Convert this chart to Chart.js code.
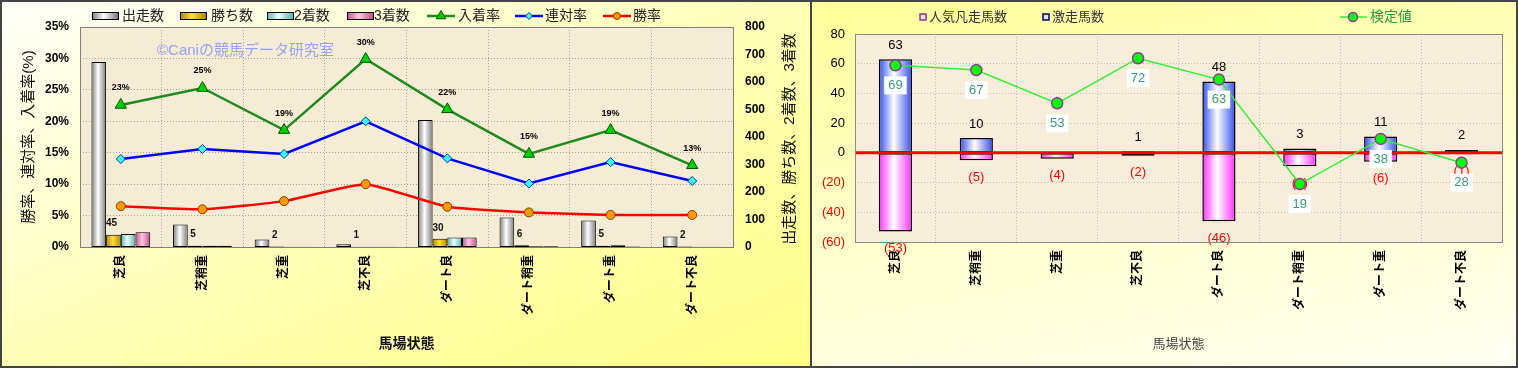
<!DOCTYPE html>
<html>
<head>
<meta charset="utf-8">
<script src="https://cdn.jsdelivr.net/npm/chart.js@4.4.0/dist/chart.umd.min.js"></script>
<style>
body { margin: 0; background: #fff; width: 1518px; height: 369px; overflow: hidden; position: relative; }
.panel { position: absolute; top: 0; height: 368px; box-sizing: border-box; border: 2px solid #444; }
#leftPanel { left: 0; width: 812px; background: linear-gradient(to bottom right, #fffffa 0%, #ffffb8 50%, #ffff88 100%); }
#rightPanel { left: 810px; width: 708px; background: linear-gradient(170deg, #ffff9a 0%, #ffffc8 45%, #fffff2 100%); }
canvas { position: absolute; left: -2px; top: -2px; }
</style>
</head>
<body>
<div class="panel" id="leftPanel"><canvas id="leftChart" width="810" height="368"></canvas></div>
<div class="panel" id="rightPanel"><canvas id="rightChart" width="708" height="368"></canvas></div>
<script>
const labels = ['芝良', '芝稍重', '芝重', '芝不良', 'ダート良', 'ダート稍重', 'ダート重', 'ダート不良'];

// left chart
const runCounts = [673, 82, 27, 10, 462, 107, 96, 38];
const winCounts = [45, 5, 2, 1, 30, 6, 5, 2];
const secondCounts = [47, 5, 1, 1, 35, 3, 6, 1];
const thirdCounts = [54, 5, 1, 1, 35, 3, 2, 1];
const placeRates = [22.6, 25.3, 18.6, 29.9, 21.9, 14.8, 18.6, 13.0];
const rentaiRates = [14.0, 15.6, 14.8, 20.0, 14.1, 10.1, 13.5, 10.5];
const winRates = [6.5, 6.0, 7.3, 10.0, 6.4, 5.5, 5.1, 5.1];

// right chart
const flopCounts = [-53, -5, -4, -2, -46, -9, -6, -1];
const upsetCounts = [63, 10, 0, 1, 48, 3, 11, 2];
const testValues = [69, 67, 53, 72, 63, 19, 38, 28];

const FONT = "'Liberation Sans','Noto Sans CJK JP',sans-serif";
Chart.defaults.font.family = FONT;
Chart.defaults.animation = false;
Chart.defaults.color = '#000';

function hGrad(ctx, x0, x1, edge, mid) {
    const g = ctx.createLinearGradient(x0, 0, x1, 0);
    g.addColorStop(0, edge);
    g.addColorStop(0.45, mid);
    g.addColorStop(1, edge);
    return g;
}

function barFill(k, n, catPct, edge, mid) {
    return c => {
        const xs = c.chart.scales.x;
        if (c.type !== 'data' || !xs || !xs.width) return mid;
        const catW = xs.width / labels.length;
        const groupW = catW * catPct, bw = groupW / n;
        const x0 = xs.getPixelForValue(c.dataIndex) - groupW / 2 + k * bw;
        return hGrad(c.chart.ctx, x0, x0 + bw, edge, mid);
    };
}

function vText(ctx, text, x, y, font, color) {
    ctx.save();
    ctx.translate(x, y);
    ctx.rotate(-Math.PI / 2);
    ctx.font = font;
    ctx.fillStyle = color;
    ctx.textAlign = 'center';
    ctx.textBaseline = 'middle';
    ctx.fillText(text, 0, 0);
    ctx.restore();
}

const barColors = [
    ['#7a7a7a', '#ffffff'],
    ['#b38600', '#ffdd44'],
    ['#5fb0b0', '#e8ffff'],
    ['#c0508a', '#ffc8e4']
];
const CAT_PCT = 0.72;

const leftDeco = {
    id: 'leftDeco',
    beforeDraw(chart) {
        const { ctx, chartArea: a } = chart;
        ctx.save();
        ctx.fillStyle = '#f5ecd6';
        ctx.fillRect(a.left, a.top, a.right - a.left, a.bottom - a.top);
        ctx.restore();
    },
    beforeDatasetsDraw(chart) {
        const ctx = chart.ctx;
        ctx.save();
        ctx.font = '15px ' + FONT;
        ctx.fillStyle = '#98a2f2';
        ctx.textBaseline = 'middle';
        ctx.fillText('©Caniの競馬データ研究室', 157, 51);
        ctx.restore();
    },
    afterDatasetDraw(chart, args) {
        if (args.index !== 4) return;
        const ctx = chart.ctx;
        ctx.save();
        ctx.font = 'bold 10px ' + FONT;
        ctx.fillStyle = '#111';
        ctx.textAlign = 'center';
        ctx.textBaseline = 'middle';
        args.meta.data.forEach((el, i) => ctx.fillText(String(winCounts[i]), el.x - 2, el.y - 11));
        ctx.restore();
    },
    afterDatasetsDraw(chart) {
        const ctx = chart.ctx;
        const meta = chart.getDatasetMeta(0);
        ctx.save();
        ctx.font = 'bold 9px ' + FONT;
        ctx.fillStyle = '#000';
        ctx.textAlign = 'center';
        ctx.textBaseline = 'middle';
        meta.data.forEach((pt, i) => ctx.fillText(Math.round(placeRates[i]) + '%', pt.x, pt.y - 17));
        ctx.restore();
    },
    afterDraw(chart) {
        const { ctx, chartArea: a } = chart;
        ctx.save();
        ctx.strokeStyle = '#808080';
        ctx.lineWidth = 1;
        ctx.strokeRect(a.left + 0.5, a.top + 0.5, a.right - a.left, a.bottom - a.top);

        // legend
        const y = 16;
        ctx.font = '14px ' + FONT;
        ctx.textBaseline = 'middle';
        const barItems = [['出走数', 92, 122], ['勝ち数', 180, 211], ['2着数', 267, 294], ['3着数', 347, 374]];
        barItems.forEach((it, k) => {
            ctx.fillStyle = hGrad(ctx, it[1], it[1] + 26, barColors[k][0], barColors[k][1]);
            ctx.fillRect(it[1], y - 4, 26, 8);
            ctx.strokeStyle = '#000';
            ctx.lineWidth = 1;
            ctx.strokeRect(it[1] + 0.5, y - 3.5, 26, 7);
            ctx.fillStyle = '#222';
            ctx.fillText(it[0], it[2], y);
        });
        const lineItems = [['入着率', 427, 458, 0], ['連対率', 515, 545, 1], ['勝率', 603, 633, 2]];
        lineItems.forEach(it => {
            const ds = chart.data.datasets[it[3]];
            ctx.strokeStyle = ds.borderColor;
            ctx.lineWidth = 2.5;
            ctx.beginPath();
            ctx.moveTo(it[1], y);
            ctx.lineTo(it[1] + 28, y);
            ctx.stroke();
            ctx.fillStyle = ds.pointBackgroundColor;
            ctx.strokeStyle = ds.pointBorderColor;
            ctx.lineWidth = 1;
            Chart.helpers.drawPoint(ctx, { pointStyle: ds.pointStyle, radius: ds.pointRadius - 1, borderWidth: 1 }, it[1] + 14, y);
            ctx.fillStyle = '#222';
            ctx.fillText(it[0], it[2], y);
        });

        // axis titles
        vText(ctx, '勝率、連対率、入着率(%)', 29, (a.top + a.bottom) / 2, '15px ' + FONT, '#111');
        vText(ctx, '出走数、勝ち数、2着数、3着数', 790, (a.top + a.bottom) / 2 + 2, '15px ' + FONT, '#111');
        ctx.font = 'bold 14px ' + FONT;
        ctx.fillStyle = '#111';
        ctx.textAlign = 'center';
        ctx.textBaseline = 'middle';
        ctx.fillText('馬場状態', (a.left + a.right) / 2, 344);
        ctx.restore();
    }
};

const gridDotted = { color: '#a9a294', lineWidth: 1, drawTicks: false };

new Chart(document.getElementById('leftChart'), {
    data: {
        labels: labels,
        datasets: [
            {
                type: 'line', label: '入着率', data: placeRates, yAxisID: 'y', order: 1,
                borderColor: '#1f8a1f', borderWidth: 2.5, tension: 0,
                pointStyle: 'triangle', pointRadius: 6.5, pointBackgroundColor: '#00d000',
                pointBorderColor: '#005500', pointBorderWidth: 1
            },
            {
                type: 'line', label: '連対率', data: rentaiRates, yAxisID: 'y', order: 1,
                borderColor: '#0000ff', borderWidth: 2.5, tension: 0,
                pointStyle: 'rectRot', pointRadius: 4.5, pointBackgroundColor: '#33ffff',
                pointBorderColor: '#0033aa', pointBorderWidth: 1
            },
            {
                type: 'line', label: '勝率', data: winRates, yAxisID: 'y', order: 1,
                borderColor: '#ff0000', borderWidth: 2.5, tension: 0.15,
                pointStyle: 'circle', pointRadius: 4.5, pointBackgroundColor: '#ff9a00',
                pointBorderColor: '#8a3a00', pointBorderWidth: 1
            },
            {
                type: 'bar', label: '出走数', data: runCounts, yAxisID: 'y1', order: 2,
                backgroundColor: barFill(0, 4, CAT_PCT, barColors[0][0], barColors[0][1]),
                borderColor: '#000', borderWidth: 1, borderSkipped: false,
                categoryPercentage: CAT_PCT, barPercentage: 1
            },
            {
                type: 'bar', label: '勝ち数', data: winCounts, yAxisID: 'y1', order: 2,
                backgroundColor: barFill(1, 4, CAT_PCT, barColors[1][0], barColors[1][1]),
                borderColor: '#000', borderWidth: 1, borderSkipped: false,
                categoryPercentage: CAT_PCT, barPercentage: 1
            },
            {
                type: 'bar', label: '2着数', data: secondCounts, yAxisID: 'y1', order: 2,
                backgroundColor: barFill(2, 4, CAT_PCT, barColors[2][0], barColors[2][1]),
                borderColor: '#000', borderWidth: 1, borderSkipped: false,
                categoryPercentage: CAT_PCT, barPercentage: 1
            },
            {
                type: 'bar', label: '3着数', data: thirdCounts, yAxisID: 'y1', order: 2,
                backgroundColor: barFill(3, 4, CAT_PCT, barColors[3][0], barColors[3][1]),
                borderColor: '#000', borderWidth: 1, borderSkipped: false,
                categoryPercentage: CAT_PCT, barPercentage: 1
            }
        ]
    },
    options: {
        responsive: false,
        events: [],
        layout: { padding: { top: 27, left: 0, right: 0, bottom: 0 } },
        plugins: { legend: { display: false }, tooltip: { enabled: false } },
        scales: {
            x: {
                afterFit: s => { s.height = 121; },
                grid: gridDotted,
                border: { display: false, dash: [1, 2] },
                ticks: {
                    minRotation: 90, maxRotation: 90, autoSkip: false, padding: 8,
                    font: { size: 12, weight: 'bold' }, color: '#000'
                }
            },
            y: {
                position: 'left', min: 0, max: 35,
                afterFit: s => { s.width = 80; },
                grid: gridDotted,
                border: { display: false, dash: [1, 2] },
                ticks: {
                    stepSize: 5, padding: 11,
                    font: { size: 12, weight: 'bold' }, color: '#000',
                    callback: v => v + '%'
                }
            },
            y1: {
                position: 'right', min: 0, max: 800,
                afterFit: s => { s.width = 77; },
                grid: { display: false, drawTicks: false },
                border: { display: false },
                ticks: {
                    stepSize: 100, padding: 12,
                    font: { size: 12, weight: 'bold' }, color: '#000'
                }
            }
        }
    },
    plugins: [leftDeco]
});

// right chart
const RCAT = 0.41;
const rightDeco = {
    id: 'rightDeco',
    beforeDraw(chart) {
        const { ctx, chartArea: a } = chart;
        ctx.save();
        ctx.fillStyle = '#f6eedb';
        ctx.fillRect(a.left, a.top, a.right - a.left, a.bottom - a.top);
        ctx.restore();
    },
    afterDatasetDraw(chart, args) {
        const ctx = chart.ctx;
        const a = chart.chartArea;
        if (args.index === 2) {
            ctx.save();
            ctx.font = '13px ' + FONT;
            ctx.fillStyle = '#000';
            ctx.textAlign = 'center';
            ctx.textBaseline = 'middle';
            args.meta.data.forEach((el, i) => {
                if (upsetCounts[i] > 0) ctx.fillText(String(upsetCounts[i]), el.x, el.y - 14);
            });
            ctx.restore();
        }
        if (args.index === 1) {
            ctx.save();
            ctx.font = '13px ' + FONT;
            ctx.fillStyle = '#ff0000';
            ctx.textAlign = 'center';
            ctx.textBaseline = 'middle';
            args.meta.data.forEach((el, i) => {
                ctx.fillText('(' + (-flopCounts[i]) + ')', el.x, el.y + 17);
            });
            // zero line
            const y0 = chart.scales.y.getPixelForValue(0);
            ctx.strokeStyle = '#ff0000';
            ctx.lineWidth = 3;
            ctx.beginPath();
            ctx.moveTo(a.left, y0);
            ctx.lineTo(a.right, y0);
            ctx.stroke();
            ctx.restore();
        }
    },
    afterDatasetsDraw(chart) {
        const ctx = chart.ctx;
        const meta = chart.getDatasetMeta(0);
        ctx.save();
        ctx.font = '13px ' + FONT;
        ctx.textAlign = 'center';
        ctx.textBaseline = 'middle';
        meta.data.forEach((pt, i) => {
            const t = String(testValues[i]);
            const w = ctx.measureText(t).width + 8;
            const cy = pt.y + 20;
            ctx.fillStyle = '#ffffff';
            ctx.fillRect(pt.x - w / 2, cy - 9, w, 18);
            ctx.fillStyle = '#3a9a78';
            ctx.fillText(t, pt.x, cy);
        });
        ctx.restore();
    },
    afterDraw(chart) {
        const { ctx, chartArea: a } = chart;
        ctx.save();
        ctx.strokeStyle = '#8a8a8a';
        ctx.lineWidth = 1;
        ctx.strokeRect(a.left + 0.5, a.top + 0.5, a.right - a.left, a.bottom - a.top);

        // legend
        const y = 17;
        ctx.font = '13px ' + FONT;
        ctx.textBaseline = 'middle';
        ctx.fillStyle = '#ffd8f4';
        ctx.fillRect(110, y - 3, 6, 6);
        ctx.strokeStyle = '#993399';
        ctx.lineWidth = 1.5;
        ctx.strokeRect(110, y - 3, 6, 6);
        ctx.fillStyle = '#333';
        ctx.fillText('人気凡走馬数', 119, y);
        ctx.fillStyle = '#e0e8ff';
        ctx.fillRect(233, y - 3, 6, 6);
        ctx.strokeStyle = '#000066';
        ctx.strokeRect(233, y - 3, 6, 6);
        ctx.fillStyle = '#333';
        ctx.fillText('激走馬数', 242, y);

        const ds = chart.data.datasets[0];
        ctx.strokeStyle = ds.borderColor;
        ctx.lineWidth = 1.5;
        ctx.beginPath();
        ctx.moveTo(530, y);
        ctx.lineTo(557, y);
        ctx.stroke();
        ctx.fillStyle = ds.pointBackgroundColor;
        ctx.strokeStyle = ds.pointBorderColor;
        Chart.helpers.drawPoint(ctx, { pointStyle: 'circle', radius: 4.5, borderWidth: 1.5 }, 543, y);
        ctx.font = '14px ' + FONT;
        ctx.fillStyle = '#2a9a40';
        ctx.fillText('検定値', 560, y);

        ctx.font = '13px ' + FONT;
        ctx.fillStyle = '#444';
        ctx.textAlign = 'center';
        ctx.fillText('馬場状態', (a.left + a.right) / 2, 344);
        ctx.restore();
    }
};

new Chart(document.getElementById('rightChart'), {
    data: {
        labels: labels,
        datasets: [
            {
                type: 'line', label: '検定値', data: testValues, yAxisID: 'y2', order: 1,
                borderColor: '#33ee33', borderWidth: 1.5, tension: 0,
                pointStyle: 'circle', pointRadius: 5.5, pointBackgroundColor: '#00ff00',
                pointBorderColor: '#993399', pointBorderWidth: 1.5
            },
            {
                type: 'bar', label: '人気凡走馬数', data: flopCounts, yAxisID: 'y', stack: 's', order: 2,
                backgroundColor: barFill(0, 1, RCAT, '#ff30ff', '#ffffff'),
                borderColor: '#000', borderWidth: 1.5, borderSkipped: false,
                categoryPercentage: RCAT, barPercentage: 1
            },
            {
                type: 'bar', label: '激走馬数', data: upsetCounts, yAxisID: 'y', stack: 's', order: 2,
                backgroundColor: barFill(0, 1, RCAT, '#3050f0', '#ffffff'),
                borderColor: '#000', borderWidth: 1.5, borderSkipped: false,
                categoryPercentage: RCAT, barPercentage: 1
            }
        ]
    },
    options: {
        responsive: false,
        events: [],
        layout: { padding: { top: 34, left: 0, right: 16, bottom: 0 } },
        plugins: { legend: { display: false }, tooltip: { enabled: false } },
        scales: {
            x: {
                stacked: true,
                afterFit: s => { s.height = 126; },
                grid: { color: '#c4bcaa', lineWidth: 1, drawTicks: false },
                border: { display: false, dash: [1, 2] },
                ticks: {
                    minRotation: 90, maxRotation: 90, autoSkip: false, padding: 8,
                    font: { size: 12, weight: 'bold' }, color: '#000'
                }
            },
            y: {
                stacked: true, position: 'left', min: -60, max: 80,
                afterFit: s => { s.width = 45; },
                grid: { color: '#c4bcaa', lineWidth: 1, drawTicks: false },
                border: { display: false, dash: [1, 2] },
                ticks: {
                    stepSize: 20, padding: 10,
                    font: { size: 13 },
                    color: c => (c.tick && c.tick.value < 0) ? '#ff0000' : '#000',
                    callback: v => v < 0 ? '(' + (-v) + ')' : String(v)
                }
            },
            y2: { display: false, min: -5.4, max: 82.2 }
        }
    },
    plugins: [rightDeco]
});
</script>
</body>
</html>
